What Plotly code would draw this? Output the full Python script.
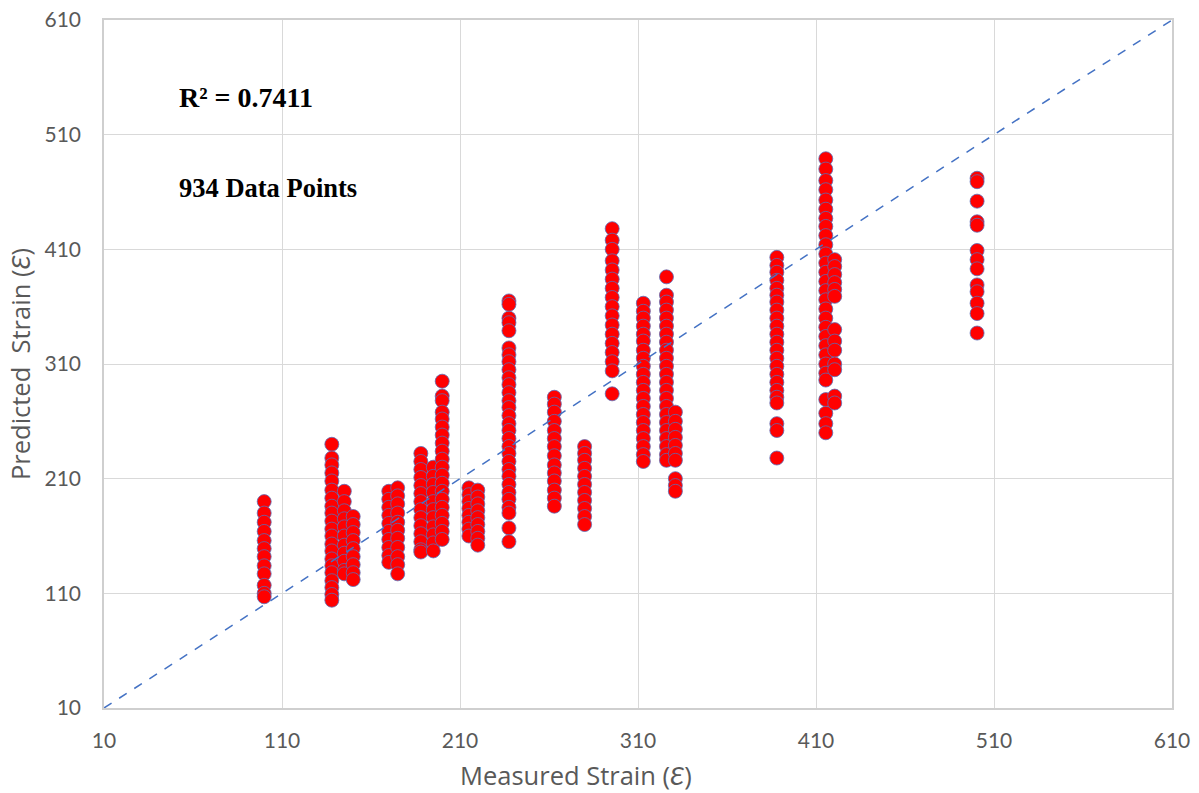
import plotly.graph_objects as go

# Measured strain (x) for each column of points and the predicted strains
col_x = [100, 138, 145, 150, 170, 175, 188, 195, 200, 215, 220, 237.5, 263, 280,
         295.5, 313, 326, 331, 388, 415.5, 420.5, 500.5]

col_y = [
    [190, 180, 172, 164, 156, 149, 142, 134, 127, 117, 110, 107],
    [240, 228, 222, 215, 208, 200, 193, 186, 180, 173, 166, 160, 153, 147, 140, 134, 128, 121, 115, 109, 104],
    [199, 190, 182, 175, 168, 160, 152, 145, 138, 130, 127],
    [177, 170, 163, 156, 149, 142, 135, 128, 122],
    [199, 192, 185, 178, 171, 164, 157, 150, 143, 137],
    [202, 195, 188, 180, 172, 165, 158, 150, 142, 135, 127],
    [232, 225, 218, 211, 204, 197, 190, 183, 176, 169, 162, 155, 148, 146],
    [220, 212, 205, 198, 190, 183, 176, 168, 161, 154, 147],
    [295, 282, 278, 268, 262, 255, 248, 241, 234, 227, 220, 213, 206, 199, 192, 185, 178, 171, 164, 157],
    [202, 196, 190, 184, 178, 172, 166, 160],
    [200, 194, 188, 182, 176, 170, 164, 158, 152],
    [365, 362, 350, 346, 339, 324, 318, 312, 305, 298, 292, 285, 278, 272, 265, 258, 252, 245,
     238, 232, 225, 218, 212, 205, 198, 192, 185, 180, 167, 155],
    [281, 275, 268, 260, 252, 245, 238, 230, 222, 215, 208, 200, 193, 186],
    [238, 232, 226, 219, 212, 205, 198, 191, 184, 177, 170],
    [428, 418, 410, 400, 392, 384, 376, 368, 360, 352, 344, 336, 328, 320, 312, 304, 284],
    [363, 356, 350, 343, 336, 330, 322, 315, 308, 301, 294, 287, 280, 273, 266, 259, 252, 245, 238, 231, 225],
    [386, 370, 364, 357, 350, 343, 336, 329, 322, 315, 308, 301, 294, 287, 280, 273, 266, 259, 252, 245, 238, 231, 226],
    [268, 260, 253, 246, 239, 232, 226, 210, 204, 199],
    [403, 396, 390, 383, 376, 370, 364, 357, 350, 343, 336, 329, 322, 315, 308, 301, 294, 287, 281, 276, 258, 252, 228],
    [489, 480, 470, 462, 453, 445, 437, 430, 422, 414, 406, 398, 390, 382, 374, 366, 358, 350, 342,
     334, 326, 318, 310, 302, 296, 279, 267, 258, 250],
    [401, 395, 388, 381, 375, 369, 340, 330, 322, 310, 305, 282, 276],
    [472, 469, 452, 434, 431, 409, 401, 393, 379, 373, 363, 354, 337],
]

tick_vals = [10, 110, 210, 310, 410, 510, 610]
line_x = [10, 610]
line_y = [10, 610]

xs, ys = [], []
for cx, cy in zip(col_x, col_y):
    for v in cy:
        xs.append(cx)
        ys.append(v)

fig = go.Figure()
fig.add_trace(go.Scatter(
    x=xs, y=ys, mode="markers",
    marker=dict(size=14, color="#FF0000", line=dict(color="#5A6DB8", width=0.8)),
    showlegend=False, hoverinfo="x+y",
))
fig.add_trace(go.Scatter(
    x=line_x, y=line_y, mode="lines",
    line=dict(color="#4472C4", width=1.5, dash="dash"),
    showlegend=False, hoverinfo="skip",
))

tick_font = dict(family="Lato, Open Sans, sans-serif", size=21, color="#595959")
axis_common = dict(
    range=[10, 610], tickvals=tick_vals, ticktext=[str(t) for t in tick_vals],
    showgrid=True, gridcolor="#D9D9D9", gridwidth=1,
    showline=True, linecolor="#CFCFCF", linewidth=1.5, mirror=True,
    zeroline=False, ticks="", tickfont=tick_font, fixedrange=True, automargin=False,
)
fig.update_xaxes(**axis_common, ticklabelstandoff=13)
fig.update_yaxes(**axis_common, ticklabelstandoff=17)

title_font = dict(family="Open Sans, Lato, sans-serif", size=25.5, color="#595959")
serif_bold = "Liberation Serif, Times New Roman, serif"

fig.update_layout(
    width=1199, height=793,
    margin=dict(l=104, r=27, t=20, b=85),
    plot_bgcolor="white", paper_bgcolor="white",
    annotations=[
        dict(text="Measured Strain (<i>Ɛ</i>)", xref="paper", yref="paper",
             x=0.442, y=-0.0974, xanchor="center", yanchor="middle", showarrow=False,
             font=title_font),
        dict(text="Predicted  Strain (<i>Ɛ</i>)", xref="paper", yref="paper",
             x=-0.0786, y=0.5, xanchor="center", yanchor="middle", showarrow=False,
             textangle=-90, font=title_font),
        dict(text="<b>R² = 0.7411</b>", xref="x", yref="y", x=51, y=542,
             xanchor="left", yanchor="middle", showarrow=False,
             font=dict(family=serif_bold, size=28, color="black")),
        dict(text="<b>934 Data Points</b>", xref="x", yref="y", x=51, y=463.5,
             xanchor="left", yanchor="middle", showarrow=False,
             font=dict(family=serif_bold, size=26.5, color="black")),
    ],
)

fig.write_html("out.html")
